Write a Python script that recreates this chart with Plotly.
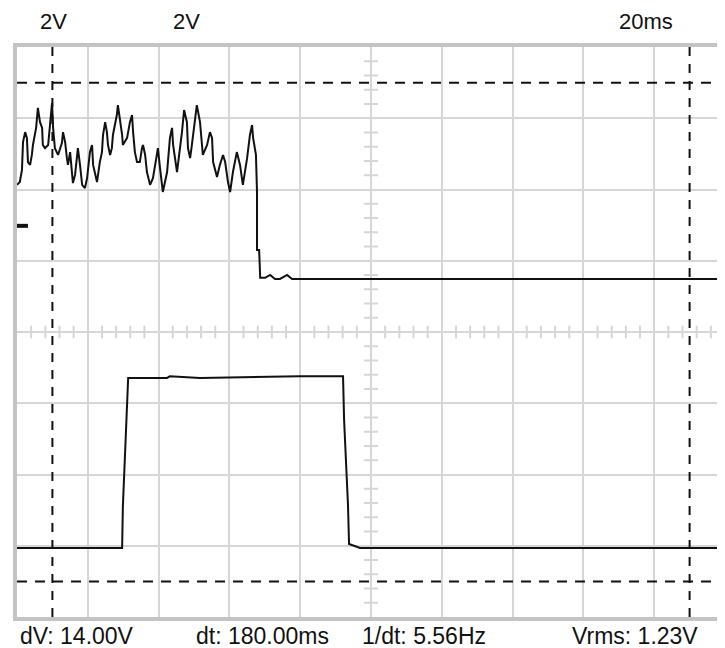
import plotly.graph_objects as go
import numpy as np

# Channel 1 (noisy signal then step down), time in ms, voltage in V
ch1_t = [0.0, 0.8, 1.4, 1.7, 2.3, 2.8, 3.1, 3.7, 4.2, 4.5, 5.4, 5.9, 6.5, 7.1, 7.3, 7.9,
         8.8, 9.3, 9.9, 10.2, 10.7, 11.6, 12.7, 13.0, 13.6, 14.1, 14.4, 15.0, 15.5, 15.8,
         16.4, 16.9, 17.2, 17.8, 18.4, 19.2, 19.8, 20.6, 21.2, 21.5, 22.6, 23.4, 24.0,
         24.3, 24.9, 25.4, 25.7, 26.3, 26.8, 27.1, 27.7, 28.2, 28.5, 29.1, 29.7, 29.9,
         31.1, 31.9, 32.5, 32.8, 33.3, 33.9, 34.7, 35.3, 35.6, 36.2, 36.7, 37.6, 38.4,
         39.5, 39.8, 40.4, 41.0, 41.2, 42.4, 43.2, 43.8, 44.1, 45.2, 46.0, 46.6, 47.2,
         48.0, 48.3, 48.9, 49.4, 50.3, 50.8, 51.7, 52.3, 52.5, 53.7, 54.5, 55.1, 55.4,
         56.5, 57.3, 58.2, 58.8, 59.6, 60.2, 61.0, 62.1, 63.0, 63.8, 65.0, 65.8, 66.4,
         66.7, 67.5, 67.8, 67.8, 68.4, 68.7, 70.1, 71.5, 72.9, 74.3, 76.3, 77.7, 200.0]
ch1_v = [4.13, 4.21, 4.55, 5.33, 5.61, 5.45, 4.77, 4.69, 4.97, 5.25, 5.73, 6.29, 5.89, 5.73,
         5.25, 5.16, 5.25, 5.89, 6.43, 5.73, 5.16, 4.97, 5.31, 5.61, 5.33, 4.88, 4.69, 5.05,
         4.49, 4.18, 4.41, 4.97, 5.16, 4.69, 4.13, 4.04, 4.32, 5.05, 5.25, 4.69, 4.21, 4.77,
         5.05, 5.53, 5.89, 5.61, 5.25, 4.97, 5.16, 5.53, 5.81, 6.09, 6.37, 6.01, 5.53, 5.25,
         5.45, 5.89, 6.09, 5.61, 5.05, 4.77, 4.77, 5.16, 5.25, 4.97, 4.49, 4.13, 4.32, 4.97,
         5.16, 4.60, 4.13, 3.93, 4.49, 5.45, 5.73, 5.25, 4.49, 5.05, 5.61, 6.23, 5.89, 5.16,
         4.88, 5.25, 6.09, 6.37, 5.89, 5.33, 4.97, 5.25, 5.61, 5.45, 4.77, 4.35, 4.69, 4.97,
         4.77, 4.21, 3.93, 4.49, 5.05, 4.69, 4.13, 4.88, 5.53, 5.81, 5.45, 4.97, 3.93, 2.30,
         2.30, 1.52, 1.52, 1.60, 1.49, 1.49, 1.60, 1.49, 1.49]

# Channel 2 (pulse)
ch2_t = [0.0, 29.7, 29.9, 30.8, 31.4, 42.4, 43.2, 51.7, 79.9, 92.1, 92.4, 93.5, 93.8, 96.9, 200.0]
ch2_v = [-6.06, -6.06, -4.91, -2.53, -1.29, -1.29, -1.24, -1.29, -1.24, -1.24, -2.47,
         -4.86, -5.95, -6.06, -6.06]

# Cursors
cursor_t = [10, 190]
cursor_v = [7, -7]
trigger_marker_v = 2.98

# Texts
top_labels = ["2V", "2V", "20ms"]
top_label_t = [10.2, 48.0, 177.7]
readouts = ["dV: 14.00V", "dt: 180.00ms", "1/dt: 5.56Hz", "Vrms: 1.23V"]
readout_t = [0.2, 50.0, 96.9, 156.2]

T_MAX = 200
V_MAX = 8

grid_col = "#d6d6d6"
border_col = "#c4c4c4"
ink = "#111111"
FONT = "Liberation Sans, Arial, sans-serif"

fig = go.Figure()

# minor ticks on centre axes
vt = [v for v in np.round(np.arange(-V_MAX, V_MAX + 0.01, 0.4), 2) if abs(v / 2 - round(v / 2)) > 1e-6]
tt = [t for t in np.round(np.arange(0, T_MAX + 0.01, 4), 2) if abs(t / 20 - round(t / 20)) > 1e-6]
fig.add_trace(go.Scatter(x=[T_MAX / 2] * len(vt), y=vt, mode="markers",
                         marker=dict(symbol="line-ew", size=10, line=dict(width=2, color=grid_col)),
                         hoverinfo="skip", showlegend=False))
fig.add_trace(go.Scatter(x=tt, y=[0] * len(tt), mode="markers",
                         marker=dict(symbol="line-ns", size=9, line=dict(width=2, color=grid_col)),
                         hoverinfo="skip", showlegend=False))

fig.add_trace(go.Scatter(x=ch1_t, y=ch1_v, mode="lines",
                         line=dict(color=ink, width=2), showlegend=False))
fig.add_trace(go.Scatter(x=ch2_t, y=ch2_v, mode="lines",
                         line=dict(color=ink, width=2), showlegend=False))

shapes = []
for t in cursor_t:
    shapes.append(dict(type="line", xref="x", yref="y", x0=t, x1=t, y0=-V_MAX, y1=V_MAX,
                       line=dict(color=ink, width=2, dash="9px,8px")))
for v in cursor_v:
    shapes.append(dict(type="line", xref="x", yref="y", x0=0, x1=T_MAX, y0=v, y1=v,
                       line=dict(color=ink, width=2, dash="10px,8px")))
shapes.append(dict(type="line", xref="x", yref="y", x0=0, x1=3.1,
                   y0=trigger_marker_v, y1=trigger_marker_v, line=dict(color=ink, width=4)))

annotations = []
for lab, t in zip(top_labels, top_label_t):
    annotations.append(dict(text=lab, x=t, y=1.044, xref="x", yref="paper", showarrow=False,
                            xanchor="center", yanchor="middle",
                            font=dict(family=FONT, size=22, color=ink)))
for lab, t in zip(readouts, readout_t):
    annotations.append(dict(text=lab, x=t, y=-0.033, xref="x", yref="paper", showarrow=False,
                            xanchor="left", yanchor="middle",
                            font=dict(family=FONT, size=23, color=ink)))

# page body has an 8px default margin: offset the figure so the grid lands where the reference has it
fig.update_layout(
    width=717, height=640,
    margin=dict(l=9, r=0, t=39, b=31),
    paper_bgcolor="white", plot_bgcolor="white",
    shapes=shapes, annotations=annotations,
    xaxis=dict(range=[0, T_MAX], dtick=20, tick0=0, showgrid=True, gridcolor=grid_col, gridwidth=2,
               zeroline=False, showticklabels=False, ticks="", showline=True, linecolor=border_col,
               linewidth=4, mirror=True, fixedrange=True),
    yaxis=dict(range=[-V_MAX, V_MAX], dtick=2, tick0=0, showgrid=True, gridcolor=grid_col, gridwidth=2,
               zeroline=False, showticklabels=False, ticks="", showline=True, linecolor=border_col,
               linewidth=4, fixedrange=True),
)

fig.write_html("out.html")
